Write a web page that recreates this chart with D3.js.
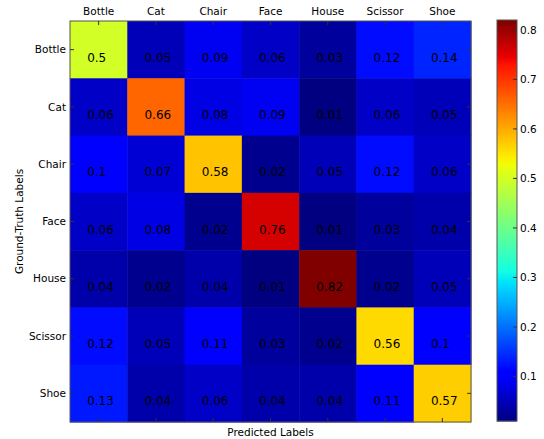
<!DOCTYPE html>
<html>
<head>
<meta charset="utf-8">
<script src="https://cdn.jsdelivr.net/npm/d3@7"></script>
<style>
  body { margin: 0; background: #fff; }
  svg text { font-family: "DejaVu Sans", sans-serif; fill: #000; }
</style>
</head>
<body>
<svg class="main-svg" width="544" height="439"></svg>
<script>
'use strict'

const predicted = ['Bottle', 'Cat', 'Chair', 'Face', 'House', 'Scissor', 'Shoe']
const groundTruth = ['Bottle', 'Cat', 'Chair', 'Face', 'House', 'Scissor', 'Shoe']

// rows = ground truth, columns = predicted
const rowBottle = [0.5, 0.05, 0.09, 0.06, 0.03, 0.12, 0.14]
const rowCat = [0.06, 0.66, 0.08, 0.09, 0.01, 0.06, 0.05]
const rowChair = [0.1, 0.07, 0.58, 0.02, 0.05, 0.12, 0.06]
const rowFace = [0.06, 0.08, 0.02, 0.76, 0.01, 0.03, 0.04]
const rowHouse = [0.04, 0.02, 0.04, 0.01, 0.82, 0.02, 0.05]
const rowScissor = [0.12, 0.05, 0.11, 0.03, 0.02, 0.56, 0.1]
const rowShoe = [0.13, 0.04, 0.06, 0.04, 0.04, 0.11, 0.57]

const colorbarTicks = [0.1, 0.2, 0.3, 0.4, 0.5, 0.6, 0.7, 0.8]
const colorDomain = [0.01, 0.82]

;(function (d3) {
  const rows = [rowBottle, rowCat, rowChair, rowFace, rowHouse, rowScissor, rowShoe]
  const cells = []
  rows.forEach((r, i) => r.forEach((v, j) => cells.push({ row: groundTruth[i], col: predicted[j], value: v })))

  const plot = { left: 70, top: 21, size: 401 }
  const bar = { left: 497, top: 20, width: 20, height: 401 }

  // matplotlib "jet"
  function jet (t) {
    const seg = (pts) => {
      for (let k = 1; k < pts.length; k++) {
        if (t <= pts[k][0]) {
          const [x0, y0] = pts[k - 1], [x1, y1] = pts[k]
          return y0 + (y1 - y0) * (t - x0) / (x1 - x0)
        }
      }
      return pts[pts.length - 1][1]
    }
    const r = seg([[0, 0], [0.35, 0], [0.66, 1], [0.89, 1], [1, 0.5]])
    const g = seg([[0, 0], [0.125, 0], [0.375, 1], [0.64, 1], [0.91, 0], [1, 0]])
    const b = seg([[0, 0.5], [0.11, 1], [0.34, 1], [0.65, 0], [1, 0]])
    return d3.rgb(r * 255, g * 255, b * 255).toString()
  }

  const norm = d3.scaleLinear().domain(colorDomain).range([0, 1]).clamp(true)
  const color = v => jet(norm(v))

  const x = d3.scaleBand().domain(predicted).range([plot.left, plot.left + plot.size])
  const y = d3.scaleBand().domain(groundTruth).range([plot.top, plot.top + plot.size])

  const svg = d3.select('.main-svg')

  // cells
  svg.append('g').selectAll('rect')
    .data(cells)
    .join('rect')
    .attr('x', d => x(d.col))
    .attr('y', d => y(d.row))
    .attr('width', x.bandwidth() + 0.5)
    .attr('height', y.bandwidth() + 0.5)
    .attr('fill', d => color(d.value))

  svg.append('g').selectAll('text')
    .data(cells)
    .join('text')
    .attr('x', d => x(d.col) + x.bandwidth() * 0.3)
    .attr('y', d => y(d.row) + y.bandwidth() * 0.71)
    .attr('font-size', 12)
    .text(d => String(d.value))

  // frame
  svg.append('rect')
    .attr('x', plot.left).attr('y', plot.top)
    .attr('width', plot.size).attr('height', plot.size)
    .attr('fill', 'none').attr('stroke', '#555').attr('stroke-width', 1)

  // inward ticks on every side
  const tickLen = 4
  const tickG = svg.append('g').attr('stroke', '#333').attr('stroke-width', 1)
  predicted.forEach(p => {
    const cx = x(p) + x.bandwidth() / 2
    tickG.append('line').attr('x1', cx).attr('x2', cx).attr('y1', plot.top).attr('y2', plot.top + tickLen)
    tickG.append('line').attr('x1', cx).attr('x2', cx).attr('y1', plot.top + plot.size).attr('y2', plot.top + plot.size - tickLen)
  })
  groundTruth.forEach(g => {
    const cy = y(g) + y.bandwidth() / 2
    tickG.append('line').attr('y1', cy).attr('y2', cy).attr('x1', plot.left).attr('x2', plot.left + tickLen)
    tickG.append('line').attr('y1', cy).attr('y2', cy).attr('x1', plot.left + plot.size).attr('x2', plot.left + plot.size - tickLen)
  })

  // tick labels
  svg.append('g').selectAll('text')
    .data(predicted)
    .join('text')
    .attr('x', d => x(d) + x.bandwidth() / 2)
    .attr('y', plot.top - 6)
    .attr('text-anchor', 'middle')
    .attr('font-size', 10.5)
    .text(d => d)

  svg.append('g').selectAll('text')
    .data(groundTruth)
    .join('text')
    .attr('x', plot.left - 4)
    .attr('y', d => y(d) + y.bandwidth() / 2)
    .attr('dy', '0.35em')
    .attr('text-anchor', 'end')
    .attr('font-size', 10.5)
    .text(d => d)

  // axis titles
  svg.append('text')
    .attr('x', plot.left + plot.size / 2)
    .attr('y', 436)
    .attr('text-anchor', 'middle')
    .attr('font-size', 10.5)
    .text('Predicted Labels')

  svg.append('text')
    .attr('transform', `translate(23,${plot.top + plot.size / 2}) rotate(-90)`)
    .attr('text-anchor', 'middle')
    .attr('font-size', 10.5)
    .text('Ground-Truth Labels')

  // colorbar
  const cb = d3.scaleLinear().domain(colorDomain).range([bar.top + bar.height, bar.top])
  const steps = d3.range(bar.height)
  svg.append('g').selectAll('rect')
    .data(steps)
    .join('rect')
    .attr('x', bar.left)
    .attr('y', d => bar.top + bar.height - d - 1)
    .attr('width', bar.width)
    .attr('height', 1.5)
    .attr('fill', d => color(cb.invert(bar.top + bar.height - d - 0.5)))

  svg.append('rect')
    .attr('x', bar.left).attr('y', bar.top)
    .attr('width', bar.width).attr('height', bar.height)
    .attr('fill', 'none').attr('stroke', '#555')

  const cbAxis = svg.append('g')
  colorbarTicks.forEach(t => {
    cbAxis.append('line')
      .attr('x1', bar.left + bar.width).attr('x2', bar.left + bar.width - 4)
      .attr('y1', cb(t)).attr('y2', cb(t))
      .attr('stroke', '#333')
  })
  cbAxis.selectAll('text')
    .data(colorbarTicks)
    .join('text')
    .attr('x', bar.left + bar.width + 3)
    .attr('y', d => cb(d))
    .attr('dy', '0.35em')
    .attr('font-size', 10.5)
    .text(d => d3.format('.1f')(d))
})(d3)
</script>
</body>
</html>
